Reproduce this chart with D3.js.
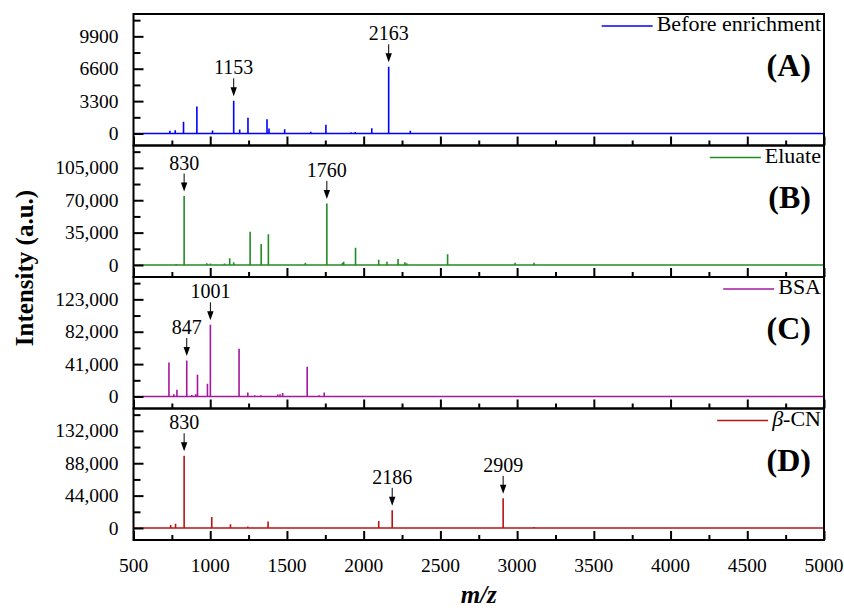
<!DOCTYPE html>
<html>
<head>
<meta charset="utf-8">
<script src="https://cdn.jsdelivr.net/npm/d3@7"></script>
<style>
  html, body { margin: 0; padding: 0; background: #fff; }
  svg { display: block; }
</style>
</head>
<body>
<svg id="chart" width="844" height="608" font-family="'Liberation Serif', 'Times New Roman', Times, 'DejaVu Serif', serif"></svg>
<script>
// ---------------- data ----------------
const panelNames = ["Before enrichment", "Eluate", "BSA", "β-CN"];
const panelTags = ["(A)", "(B)", "(C)", "(D)"];
const seriesColors = ["#0000ff", "#238b23", "#a3189f", "#b81414"];
const yTickStep = [3300, 35000, 41000, 44000];
const yTickFormats = ["d", ",", ",", ","];
const xTicks = [500, 1000, 1500, 2000, 2500, 3000, 3500, 4000, 4500, 5000];

// [m/z, intensity]
const peaksA = [[737, 270], [772, 330], [826, 1190], [913, 2750], [1015, 300], [1153, 3330],
  [1192, 400], [1246, 1600], [1370, 1460], [1383, 500], [1485, 440], [1655, 170], [1754, 890],
  [1918, 120], [1945, 150], [2053, 540], [2163, 6800], [2304, 270]];
const peaksB = [[742, 900], [778, 1200], [830, 74500], [978, 1800], [1001, 1500], [1093, 1500], [1127, 7200],
  [1153, 3000], [1260, 36000], [1332, 22700], [1379, 33200], [1620, 2500], [1760, 66600],
  [1862, 2500], [1870, 3500], [1947, 18700], [2098, 5700], [2152, 3500], [2224, 6500],
  [2268, 3000], [2280, 2000], [2547, 11600], [2987, 2500], [3110, 2500]];
const peaksC = [[731, 43000], [763, 3000], [783, 8500], [847, 45500], [880, 2000], [905, 3000],
  [917, 27500], [982, 16000], [1001, 90700], [1188, 60300], [1245, 5000], [1290, 1500],
  [1330, 1500], [1440, 2500], [1455, 3000], [1472, 4500], [1632, 37600], [1710, 1500], [1743, 5000]];
const peaksD = [[742, 4000], [774, 5800], [830, 98200], [1010, 15000], [1132, 5000], [1245, 2200],
  [1377, 9000], [1580, 800], [2098, 9500], [2186, 24000], [2909, 40300], [3110, 1200]];
const allPeaks = [peaksA, peaksB, peaksC, peaksD];

const labelsA = [1153, 2163];
const labelsB = [830, 1760];
const labelsC = [847, 1001];
const labelsD = [830, 2186, 2909];
const allLabels = [labelsA, labelsB, labelsC, labelsD];

// ---------------- layout ----------------
const svg = d3.select("#chart");
const left = 133.5, right = 824;
const top0 = 14, panelH = 131.5;
const baseOff = 119.5; // baseline offset from panel top

const x = d3.scaleLinear().domain([500, 5000]).range([left, right]);

allPeaks.forEach((peaks, i) => {
  const top = top0 + i * panelH;
  const bottom = top + panelH;
  const step = yTickStep[i];
  const pxPerStep = baseOff / 3.69;
  const yMin = -(panelH - baseOff) / pxPerStep * step;
  const yMax = 3.69 * step;
  const y = d3.scaleLinear().domain([yMin, yMax]).range([bottom, top]);
  const g = svg.append("g");

  // spectrum trace
  const sorted = peaks.slice().sort((a, b) => a[0] - b[0]);
  const path = d3.path();
  path.moveTo(x(500), y(0));
  sorted.forEach(([m, v]) => {
    path.lineTo(x(m), y(0));
    path.lineTo(x(m), y(v));
    path.lineTo(x(m), y(0));
  });
  path.lineTo(x(5000), y(0));
  g.append("path").attr("d", path.toString())
    .attr("fill", "none").attr("stroke", seriesColors[i])
    .attr("stroke-width", 1.6).attr("stroke-linejoin", "miter");

  // left axis (ticks inward)
  const yMajor = d3.range(0, 4).map(k => k * step);
  const yMinor = d3.range(0, 4).map(k => (k + 0.5) * step).filter(v => v < yMax);
  const yAxis = d3.axisRight(y).tickValues(yMajor).tickSize(10).tickFormat("");
  const yAxisMinor = d3.axisRight(y).tickValues(yMinor).tickSize(7).tickFormat("");
  [yAxis, yAxisMinor].forEach(ax => {
    const ag = g.append("g").attr("transform", `translate(${left},0)`).call(ax);
    ag.select(".domain").remove();
    ag.selectAll("line").attr("stroke", "#000").attr("stroke-width", 2);
  });
  const fmt = d3.format(yTickFormats[i]);
  g.selectAll(null).data(yMajor).enter().append("text")
    .attr("x", left - 15).attr("y", d => y(d) + 6.5)
    .attr("text-anchor", "end").attr("font-size", 19.5)
    .text(d => fmt(d));

  // bottom axis (ticks inward)
  const xMinor = d3.range(750, 5000, 500);
  const xAxis = d3.axisTop(x).tickValues(xTicks).tickSize(9).tickFormat("");
  const xAxisMinor = d3.axisTop(x).tickValues(xMinor).tickSize(5).tickFormat("");
  [xAxis, xAxisMinor].forEach(ax => {
    const ag = g.append("g").attr("transform", `translate(0,${bottom})`).call(ax);
    ag.select(".domain").remove();
    ag.selectAll("line").attr("stroke", "#000").attr("stroke-width", 2);
  });

  // frame
  g.append("rect").attr("x", left).attr("y", top)
    .attr("width", right - left).attr("height", panelH)
    .attr("fill", "none").attr("stroke", "#000").attr("stroke-width", 2);

  // peak annotations
  const lookup = new Map(peaks.map(p => [p[0], p[1]]));
  allLabels[i].forEach(m => {
    const px = x(m);
    const tip = y(lookup.get(m)) - 4.5;
    g.append("line").attr("x1", px).attr("x2", px)
      .attr("y1", tip - 18).attr("y2", tip - 8)
      .attr("stroke", "#000").attr("stroke-width", 1);
    g.append("path")
      .attr("d", `M${px - 3.2},${tip - 9} L${px + 3.2},${tip - 9} L${px},${tip} Z`)
      .attr("fill", "#000");
    g.append("text").attr("x", px).attr("y", tip - 22)
      .attr("text-anchor", "middle").attr("font-size", 20)
      .text(m);
  });

  // legend
  const lt = g.append("text").attr("x", 821).attr("y", top + 17)
    .attr("text-anchor", "end").attr("font-size", 22);
  if (panelNames[i].startsWith("β")) {
    lt.append("tspan").attr("font-style", "italic").text("β");
    lt.append("tspan").text(panelNames[i].slice(1));
  } else {
    lt.text(panelNames[i]);
  }
  const tw = lt.node().getComputedTextLength();
  const tx0 = 821 - tw;
  g.append("line").attr("x1", tx0 - 55).attr("x2", tx0 - 4)
    .attr("y1", top + 12).attr("y2", top + 12)
    .attr("stroke", seriesColors[i]).attr("stroke-width", 1.6);

  // panel tag
  g.append("text").attr("x", 811).attr("y", top + 62)
    .attr("text-anchor", "end").attr("font-size", 32).attr("font-weight", "bold")
    .text(panelTags[i]);
});

// x tick labels
const bottomY = top0 + 4 * panelH;
svg.selectAll(null).data(xTicks).enter().append("text")
  .attr("x", d => x(d)).attr("y", bottomY + 32)
  .attr("text-anchor", "middle").attr("font-size", 19.5)
  .text(d => d);

// axis titles
svg.append("text").attr("x", x(2750)).attr("y", 603)
  .attr("text-anchor", "middle").attr("font-size", 25)
  .attr("font-weight", "bold").attr("font-style", "italic").text("m/z");

svg.append("text")
  .attr("transform", `translate(33,268) rotate(-90)`)
  .attr("text-anchor", "middle").attr("font-size", 25).attr("font-weight", "bold")
  .text("Intensity (a.u.)");
</script>
</body>
</html>
